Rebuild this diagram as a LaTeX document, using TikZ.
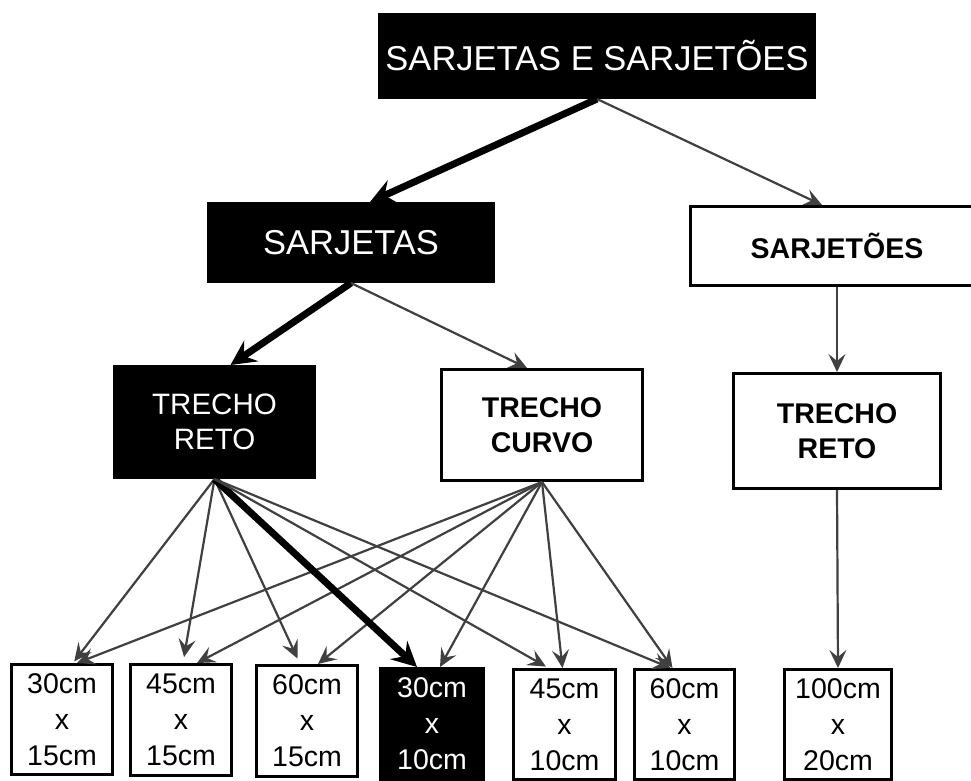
\documentclass[tikz,border=0pt]{standalone}
\usepackage{fontspec}
\setmainfont{Liberation Sans}
\usetikzlibrary{arrows.meta}
\begin{document}
\begin{tikzpicture}[x=1pt,y=-1pt,
  box/.style={draw=black, line width=3pt, inner sep=0pt, align=center},
  dark/.style={box, fill=black, text=white},
  light/.style={box, fill=white, text=black},
  bigfont/.style={font=\fontsize{34.5}{40}\selectfont},
  midfont/.style={font=\bfseries\fontsize{28.5}{35}\selectfont},
  midfontw/.style={font=\fontsize{29.5}{35}\selectfont},
  sizefont/.style={font=\fontsize{28.5}{36}\selectfont},
  thinarrow/.style={draw=black!75, line width=2.2pt, -{Stealth[length=18pt, width=17pt, inset=7pt]}},
  thickarrow/.style={draw=black, line width=7pt, -{Stealth[length=25pt, width=25pt, inset=9pt]}},
  sizebox/.style={minimum width=#1, minimum height=110pt, sizefont}
]
\useasboundingbox (0,0) rectangle (971,780);

% upper levels
\node[dark, bigfont, minimum width=435pt, minimum height=83pt] (top) at (597,56) {SARJETAS E SARJETÕES};
\node[dark, bigfont, minimum width=285pt, minimum height=78pt] (sarj) at (351,242.5) {SARJETAS};
\node[light, midfont, minimum width=293pt, minimum height=79pt] (sarjo) at (837,246) {SARJETÕES};

\node[dark, midfontw, minimum width=200pt, minimum height=111pt] (trl) at (214.5,422) {TRECHO\\RETO};
\node[light, midfont, minimum width=201pt, minimum height=111pt] (curvo) at (542,425) {TRECHO\\CURVO};
\node[light, midfont, minimum width=207pt, minimum height=115pt] (trr) at (837,431) {TRECHO\\RETO};

% bottom boxes
\node[light, sizebox=101pt, minimum height=110pt] (b1) at (62,719.5) {30cm\\x\\15cm};
\node[light, sizebox=101pt, minimum height=111pt] (b2) at (181,720) {45cm\\x\\15cm};
\node[light, sizebox=101pt, minimum height=111pt] (b3) at (307,721) {60cm\\x\\15cm};
\node[dark, sizebox=103pt, minimum height=111pt] (b4) at (432,724) {30cm\\x\\10cm};
\node[light, sizebox=102pt, minimum height=110pt] (b5) at (564.5,724.5) {45cm\\x\\10cm};
\node[light, sizebox=100pt, minimum height=110pt] (b6) at (684.5,724.5) {60cm\\x\\10cm};
\node[light, sizebox=107pt, minimum height=110pt] (b7) at (838,724.5) {100cm\\x\\20cm};

% connectors upper
\draw[thickarrow] (top.south) -- ([xshift=19pt]sarj.north);
\draw[thinarrow] (top.south) -- ([xshift=-15pt]sarjo.north);
\draw[thickarrow] (sarj.south) -- ([xshift=16pt]trl.north);
\draw[thinarrow] (sarj.south) -- ([xshift=-15pt]curvo.north);
\draw[thinarrow] (sarjo.south) -- (trr.north);

% from TRECHO CURVO
\draw[thinarrow] (curvo.south) -- ([xshift=15pt]b1.north);
\draw[thinarrow] (curvo.south) -- ([xshift=16pt]b2.north);
\draw[thinarrow] (curvo.south) -- ([xshift=11pt]b3.north);
\draw[thinarrow] (curvo.south) -- ([xshift=8pt]b4.north);
\draw[thinarrow] (curvo.south) -- ([xshift=-2pt]b5.north);
\draw[thinarrow] (curvo.south) -- ([xshift=-12pt]b6.north);

% from TRECHO RETO (left)
\draw[thinarrow, shorten >=2pt] (trl.south) -- ([xshift=11pt]b1.north);
\draw[thinarrow, shorten >=6pt] (trl.south) -- ([xshift=2pt]b2.north);
\draw[thinarrow, shorten >=6pt] (trl.south) -- ([xshift=-7pt]b3.north);
\draw[thickarrow] (trl.south) -- ([xshift=-15pt]b4.north);
\draw[thinarrow, shorten >=3pt] (trl.south) -- ([xshift=-16pt]b5.north);
\draw[thinarrow] (trl.south) -- ([xshift=-14pt]b6.north);

% right column
\draw[thinarrow] (trr.south) -- (b7.north);
\end{tikzpicture}
\end{document}
